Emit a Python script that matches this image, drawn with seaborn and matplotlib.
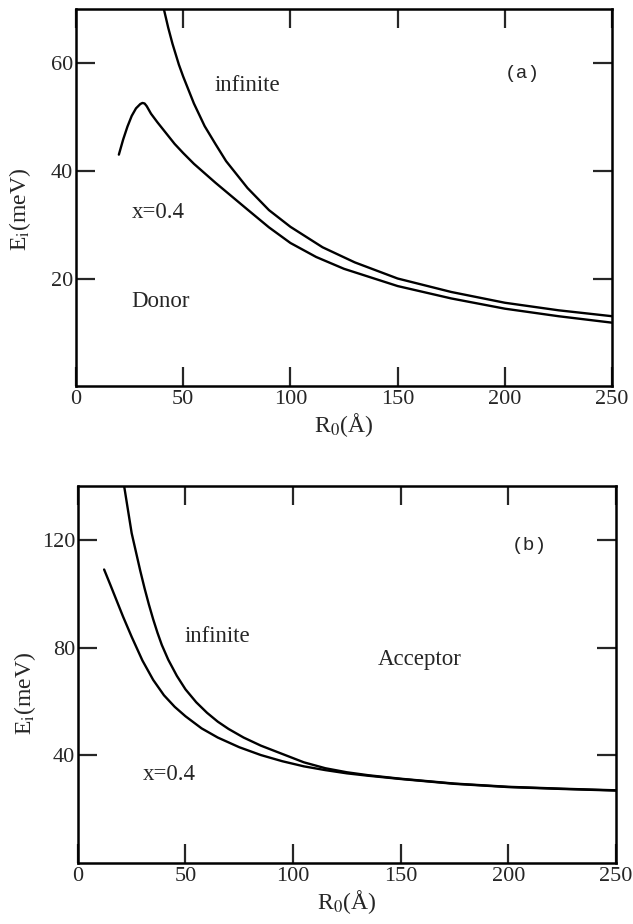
import matplotlib
matplotlib.use("Agg")
import matplotlib.pyplot as plt
import pandas as pd
import seaborn as sns

# Panel (a): donor binding energy
a_inf_r = [41, 43, 45, 48, 50, 55, 60, 65, 70, 80, 90, 100, 115, 130, 150, 175, 200, 225, 250]
a_inf_e = [70.0, 66.6, 63.6, 59.7, 57.5, 52.5, 48.3, 45.0, 41.8, 36.8, 32.7, 29.6, 25.8, 23.0, 20.0,
           17.5, 15.5, 14.1, 13.0]
a_x04_r = [20, 22, 24, 26, 28, 30, 31, 32, 33, 35, 38, 42, 46, 50, 55, 65, 80, 90, 100, 112, 125,
           150, 175, 200, 225, 250]
a_x04_e = [43.0, 45.8, 48.2, 50.2, 51.6, 52.4, 52.6, 52.5, 52.0, 50.6, 49.0, 47.0, 45.0, 43.3, 41.3,
           37.8, 32.8, 29.5, 26.6, 24.0, 21.8, 18.6, 16.3, 14.4, 13.0, 11.8]

# Panel (b): acceptor binding energy
b_inf_r = [21.5, 23, 25, 27, 29, 31, 33, 35, 37, 39, 42, 46, 50, 55, 60, 65, 70, 77, 85, 95, 105,
           115, 125, 135, 150, 175, 200, 225, 250]
b_inf_e = [140, 132.5, 122.5, 115.5, 108.5, 102, 96, 90.5, 85.5, 81, 75.5, 69.5, 64.5, 59.7, 55.8,
           52.5, 49.8, 46.6, 43.6, 40.5, 37.4, 35.2, 33.7, 32.6, 31.3, 29.5, 28.3, 27.6, 27.0]
b_x04_r = [12.2, 15, 18, 21, 25, 30, 35, 40, 45, 50, 57.5, 65, 75, 85, 95, 105, 115, 125, 135, 150,
           175, 200, 225, 250]
b_x04_e = [109, 103.5, 97.5, 91.5, 84, 75.2, 68.0, 62.3, 58.0, 54.5, 50.0, 46.6, 43.0, 40.1, 37.8,
           35.9, 34.5, 33.3, 32.4, 31.2, 29.4, 28.2, 27.5, 26.9]

x_ticks = [0, 50, 100, 150, 200, 250]
a_y_ticks = [20, 40, 60]
b_y_ticks = [40, 80, 120]


def make_df(r_inf, e_inf, r_x, e_x):
    return pd.concat([
        pd.DataFrame({"R0": r_inf, "E": e_inf, "curve": "infinite"}),
        pd.DataFrame({"R0": r_x, "E": e_x, "curve": "x=0.4"}),
    ])


def style_axes(ax, ylim, yticks, ylab_xy):
    ax.set_xlim(0, 250)
    ax.set_ylim(*ylim)
    ax.set_xticks(x_ticks)
    ax.set_yticks(yticks)
    ax.tick_params(direction="in", length=14, width=1.6, top=True, right=True,
                   labelsize=16, pad=3)
    ax.tick_params(axis="y", pad=2)
    for s in ax.spines.values():
        s.set_linewidth(1.8)
        s.set_color("black")
    ax.set_xlabel(r"R$_0$(Å)", fontsize=17, labelpad=1)
    ax.set_ylabel(r"E$_\mathrm{i}$(meV)", fontsize=17)
    ax.yaxis.set_label_coords(*ylab_xy)
    leg = ax.get_legend()
    if leg is not None:
        leg.remove()


def main():
    sns.set_style("ticks")
    plt.rcParams["font.family"] = ["Liberation Serif", "DejaVu Serif"]
    plt.rcParams["mathtext.fontset"] = "stix"

    fig = plt.figure(figsize=(6.33, 9.24), dpi=100)
    ax_a = fig.add_axes([0.120, 0.582, 0.847, 0.408])
    ax_b = fig.add_axes([0.123, 0.066, 0.850, 0.408])

    pal = {"infinite": "black", "x=0.4": "black"}

    df_a = make_df(a_inf_r, a_inf_e, a_x04_r, a_x04_e)
    sns.lineplot(data=df_a, x="R0", y="E", hue="curve", palette=pal, sort=False,
                 estimator=None, linewidth=1.7, ax=ax_a)
    style_axes(ax_a, (0, 70), a_y_ticks, (-0.08, 0.47))
    ax_a.text(80, 55.8, "infinite", fontsize=16.5, ha="center", va="center")
    ax_a.text(208, 58, "(a)", fontsize=14, ha="center", va="center", family="Liberation Mono")
    ax_a.text(38.5, 32.2, "x=0.4", fontsize=16.5, ha="center", va="center")
    ax_a.text(39.5, 15.7, "Donor", fontsize=16.5, ha="center", va="center")

    df_b = make_df(b_inf_r, b_inf_e, b_x04_r, b_x04_e)
    sns.lineplot(data=df_b, x="R0", y="E", hue="curve", palette=pal, sort=False,
                 estimator=None, linewidth=1.7, ax=ax_b)
    style_axes(ax_b, (0, 140), b_y_ticks, (-0.074, 0.45))
    ax_b.text(65, 84, "infinite", fontsize=16.5, ha="center", va="center")
    ax_b.text(210, 117.8, "(b)", fontsize=14, ha="center", va="center", family="Liberation Mono")
    ax_b.text(158.7, 75.4, "Acceptor", fontsize=16.5, ha="center", va="center")
    ax_b.text(42.5, 33, "x=0.4", fontsize=16.5, ha="center", va="center")

    fig.savefig("out.png", dpi=100)


if __name__ == "__main__":
    main()
